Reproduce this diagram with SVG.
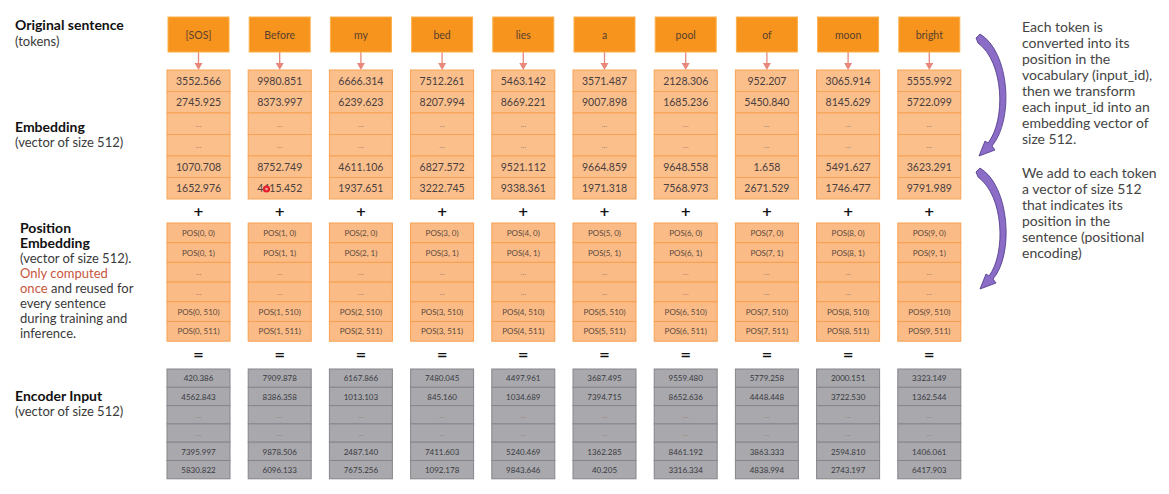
<svg xmlns="http://www.w3.org/2000/svg" width="1169" height="494" viewBox="0 0 1169 494">
<style>
  .lbl{font-family:Lato,"Open Sans","Liberation Sans",sans-serif;font-size:13px;fill:#3a3a3a}
  .b{font-weight:bold;fill:#111;font-size:14px}
  .red{fill:#c8553d}
  .side{font-family:Lato,"Open Sans","Liberation Sans",sans-serif;font-size:14px;fill:#444}
  .tok rect{fill:#F7941D;stroke:#FBB04A;stroke-width:1}
  .tok text{font-family:Lato,"Open Sans","Liberation Sans",sans-serif;font-size:10.5px;fill:#5a4030;text-anchor:middle;dominant-baseline:central}
  .emb use{fill:#FBBF8C;stroke:#F7A355;stroke-width:1}
  .emb text{font-family:Lato,"Open Sans","Liberation Sans",sans-serif;font-size:10.5px;fill:#4a4040;stroke:none;text-anchor:middle;dominant-baseline:central}
  .pos use{fill:#FBBB86;stroke:#F7A050;stroke-width:1}
  .pos text{font-family:Lato,"Open Sans","Liberation Sans",sans-serif;font-size:8px;fill:#5a4a40;stroke:none;text-anchor:middle;dominant-baseline:central}
  .enc use{fill:#A8A8AD;stroke:#85858B;stroke-width:1}
  .enc text{font-family:Lato,"Open Sans","Liberation Sans",sans-serif;font-size:8px;fill:#3a3a3e;stroke:none;text-anchor:middle;dominant-baseline:central}
  .emb text.dots,.pos text.dots,.enc text.dots{fill:#9a8070;font-size:8px}
  .op{font-family:"DejaVu Sans",sans-serif;font-size:13px;font-weight:bold;fill:#111;text-anchor:middle}
  .arr{stroke:#E8877A;stroke-width:1.3;fill:none}
  .arrh{fill:#E8877A}
  .curve{fill:#8B6CC6;stroke:#4A3585;stroke-width:0.8}
</style>
<rect x="0" y="0" width="1169" height="494" fill="#ffffff"/>

<g id="labels">
  <text class="lbl b" x="15" y="30">Original sentence</text>
  <text class="lbl" x="15" y="46">(tokens)</text>
  <text class="lbl b" x="15" y="132">Embedding</text>
  <text class="lbl" x="15" y="147">(vector of size 512)</text>
  <text class="lbl b" x="20" y="233">Position</text>
  <text class="lbl b" x="20" y="248">Embedding</text>
  <text class="lbl" x="20" y="263">(vector of size 512).</text>
  <text class="lbl red" x="20" y="278">Only computed</text>
  <text class="lbl" x="20" y="293"><tspan class="red">once</tspan> and reused for</text>
  <text class="lbl" x="20" y="308">every sentence</text>
  <text class="lbl" x="20" y="323">during training and</text>
  <text class="lbl" x="20" y="338">inference.</text>
  <text class="lbl b" x="15" y="401">Encoder Input</text>
  <text class="lbl" x="15" y="416">(vector of size 512)</text>
</g>

<g id="notes">
  <text class="side" x="1022" y="32">Each token is</text>
  <text class="side" x="1022" y="48">converted into its</text>
  <text class="side" x="1022" y="64">position in the</text>
  <text class="side" x="1022" y="80">vocabulary (input_id),</text>
  <text class="side" x="1022" y="96">then we transform</text>
  <text class="side" x="1022" y="112">each input_id into an</text>
  <text class="side" x="1022" y="128">embedding vector of</text>
  <text class="side" x="1022" y="144">size 512.</text>
  <text class="side" x="1022" y="178">We add to each token</text>
  <text class="side" x="1022" y="194">a vector of size 512</text>
  <text class="side" x="1022" y="210">that indicates its</text>
  <text class="side" x="1022" y="226">position in the</text>
  <text class="side" x="1022" y="242">sentence (positional</text>
  <text class="side" x="1022" y="258">encoding)</text>
</g>

<g id="connectors">
  <path class="curve" d="M976 38 L980 34 C1010 52 1014 120 992 146 L995 150 L979 156 L985 141 L988 143 C1006 120 1004 62 978 43 Z"/>
  <path class="curve" d="M976 172 L980 168 C1010 186 1014 255 993 279 L996 283 L980 289 L986 274 L989 276 C1006 253 1004 196 978 177 Z"/>
  <g id="token-arrows">
    <line class="arr" x1="198.5" y1="52" x2="198.5" y2="64"/><polygon class="arrh" points="194.5,63 202.5,63 198.5,70"/>
    <line class="arr" x1="279.7" y1="52" x2="279.7" y2="64"/><polygon class="arrh" points="275.7,63 283.7,63 279.7,70"/>
    <line class="arr" x1="360.9" y1="52" x2="360.9" y2="64"/><polygon class="arrh" points="356.9,63 364.9,63 360.9,70"/>
    <line class="arr" x1="442.1" y1="52" x2="442.1" y2="64"/><polygon class="arrh" points="438.1,63 446.1,63 442.1,70"/>
    <line class="arr" x1="523.3" y1="52" x2="523.3" y2="64"/><polygon class="arrh" points="519.3,63 527.3,63 523.3,70"/>
    <line class="arr" x1="604.5" y1="52" x2="604.5" y2="64"/><polygon class="arrh" points="600.5,63 608.5,63 604.5,70"/>
    <line class="arr" x1="685.7" y1="52" x2="685.7" y2="64"/><polygon class="arrh" points="681.7,63 689.7,63 685.7,70"/>
    <line class="arr" x1="766.9" y1="52" x2="766.9" y2="64"/><polygon class="arrh" points="762.9,63 770.9,63 766.9,70"/>
    <line class="arr" x1="848.1" y1="52" x2="848.1" y2="64"/><polygon class="arrh" points="844.1,63 852.1,63 848.1,70"/>
    <line class="arr" x1="929.3" y1="52" x2="929.3" y2="64"/><polygon class="arrh" points="925.3,63 933.3,63 929.3,70"/>
  </g>
  <g id="operators">
    <text class="op" x="198.5" y="216">+</text><text class="op" x="279.7" y="216">+</text><text class="op" x="360.9" y="216">+</text><text class="op" x="442.1" y="216">+</text><text class="op" x="523.3" y="216">+</text><text class="op" x="604.5" y="216">+</text><text class="op" x="685.7" y="216">+</text><text class="op" x="766.9" y="216">+</text><text class="op" x="848.1" y="216">+</text><text class="op" x="929.3" y="216">+</text>
    <text class="op" x="198.5" y="359">=</text><text class="op" x="279.7" y="359">=</text><text class="op" x="360.9" y="359">=</text><text class="op" x="442.1" y="359">=</text><text class="op" x="523.3" y="359">=</text><text class="op" x="604.5" y="359">=</text><text class="op" x="685.7" y="359">=</text><text class="op" x="766.9" y="359">=</text><text class="op" x="848.1" y="359">=</text><text class="op" x="929.3" y="359">=</text>
  </g>
</g>

<g id="tokens">
  <g id="tok0" class="tok"><rect x="168" y="17" width="61" height="35"/><text x="198.5" y="34.5">[SOS]</text></g>
  <g id="tok1" class="tok"><rect x="249.2" y="17" width="61" height="35"/><text x="279.7" y="34.5">Before</text></g>
  <g id="tok2" class="tok"><rect x="330.4" y="17" width="61" height="35"/><text x="360.9" y="34.5">my</text></g>
  <g id="tok3" class="tok"><rect x="411.6" y="17" width="61" height="35"/><text x="442.1" y="34.5">bed</text></g>
  <g id="tok4" class="tok"><rect x="492.8" y="17" width="61" height="35"/><text x="523.3" y="34.5">lies</text></g>
  <g id="tok5" class="tok"><rect x="574" y="17" width="61" height="35"/><text x="604.5" y="34.5">a</text></g>
  <g id="tok6" class="tok"><rect x="655.2" y="17" width="61" height="35"/><text x="685.7" y="34.5">pool</text></g>
  <g id="tok7" class="tok"><rect x="736.4" y="17" width="61" height="35"/><text x="766.9" y="34.5">of</text></g>
  <g id="tok8" class="tok"><rect x="817.6" y="17" width="61" height="35"/><text x="848.1" y="34.5">moon</text></g>
  <g id="tok9" class="tok"><rect x="898.8" y="17" width="61" height="35"/><text x="929.3" y="34.5">bright</text></g>
</g>

<defs>
  <g id="embcells">
    <rect x="-31.5" y="70" width="63" height="21.5"/><rect x="-31.5" y="91.5" width="63" height="21.5"/><rect x="-31.5" y="113" width="63" height="21.5"/><rect x="-31.5" y="134.5" width="63" height="21.5"/><rect x="-31.5" y="156" width="63" height="21.5"/><rect x="-31.5" y="177.5" width="63" height="21.5"/>
  </g>
  <g id="poscells">
    <rect x="-31.5" y="223" width="63" height="19.7"/><rect x="-31.5" y="242.7" width="63" height="19.7"/><rect x="-31.5" y="262.4" width="63" height="19.7"/><rect x="-31.5" y="282.1" width="63" height="19.7"/><rect x="-31.5" y="301.8" width="63" height="19.7"/><rect x="-31.5" y="321.5" width="63" height="19.7"/>
  </g>
  <g id="enccells">
    <rect x="-31.5" y="369" width="63" height="18.3"/><rect x="-31.5" y="387.3" width="63" height="18.3"/><rect x="-31.5" y="405.6" width="63" height="18.3"/><rect x="-31.5" y="423.9" width="63" height="18.3"/><rect x="-31.5" y="442.2" width="63" height="18.3"/><rect x="-31.5" y="460.5" width="63" height="18.3"/>
  </g>
</defs>

<g id="embeddings">
  <g id="emb0" class="emb" transform="translate(198.5,0)"><use href="#embcells"/><text x="0" y="81">3552.566</text><text x="0" y="102">2745.925</text><text class="dots" x="0" y="124">...</text><text class="dots" x="0" y="145">...</text><text x="0" y="167">1070.708</text><text x="0" y="188">1652.976</text></g>
  <g id="emb1" class="emb" transform="translate(279.7,0)"><use href="#embcells"/><text x="0" y="81">9980.851</text><text x="0" y="102">8373.997</text><text class="dots" x="0" y="124">...</text><text class="dots" x="0" y="145">...</text><text x="0" y="167">8752.749</text><text x="0" y="188">4415.452</text></g>
  <g id="emb2" class="emb" transform="translate(360.9,0)"><use href="#embcells"/><text x="0" y="81">6666.314</text><text x="0" y="102">6239.623</text><text class="dots" x="0" y="124">...</text><text class="dots" x="0" y="145">...</text><text x="0" y="167">4611.106</text><text x="0" y="188">1937.651</text></g>
  <g id="emb3" class="emb" transform="translate(442.1,0)"><use href="#embcells"/><text x="0" y="81">7512.261</text><text x="0" y="102">8207.994</text><text class="dots" x="0" y="124">...</text><text class="dots" x="0" y="145">...</text><text x="0" y="167">6827.572</text><text x="0" y="188">3222.745</text></g>
  <g id="emb4" class="emb" transform="translate(523.3,0)"><use href="#embcells"/><text x="0" y="81">5463.142</text><text x="0" y="102">8669.221</text><text class="dots" x="0" y="124">...</text><text class="dots" x="0" y="145">...</text><text x="0" y="167">9521.112</text><text x="0" y="188">9338.361</text></g>
  <g id="emb5" class="emb" transform="translate(604.5,0)"><use href="#embcells"/><text x="0" y="81">3571.487</text><text x="0" y="102">9007.898</text><text class="dots" x="0" y="124">...</text><text class="dots" x="0" y="145">...</text><text x="0" y="167">9664.859</text><text x="0" y="188">1971.318</text></g>
  <g id="emb6" class="emb" transform="translate(685.7,0)"><use href="#embcells"/><text x="0" y="81">2128.306</text><text x="0" y="102">1685.236</text><text class="dots" x="0" y="124">...</text><text class="dots" x="0" y="145">...</text><text x="0" y="167">9648.558</text><text x="0" y="188">7568.973</text></g>
  <g id="emb7" class="emb" transform="translate(766.9,0)"><use href="#embcells"/><text x="0" y="81">952.207</text><text x="0" y="102">5450.840</text><text class="dots" x="0" y="124">...</text><text class="dots" x="0" y="145">...</text><text x="0" y="167">1.658</text><text x="0" y="188">2671.529</text></g>
  <g id="emb8" class="emb" transform="translate(848.1,0)"><use href="#embcells"/><text x="0" y="81">3065.914</text><text x="0" y="102">8145.629</text><text class="dots" x="0" y="124">...</text><text class="dots" x="0" y="145">...</text><text x="0" y="167">5491.627</text><text x="0" y="188">1746.477</text></g>
  <g id="emb9" class="emb" transform="translate(929.3,0)"><use href="#embcells"/><text x="0" y="81">5555.992</text><text x="0" y="102">5722.099</text><text class="dots" x="0" y="124">...</text><text class="dots" x="0" y="145">...</text><text x="0" y="167">3623.291</text><text x="0" y="188">9791.989</text></g>
</g>

<g id="cursor-mark">
  <circle cx="266.5" cy="189" r="3.6" fill="#E4202C"/>
  <circle cx="266.5" cy="189" r="1.3" fill="#F6A6A6"/>
</g>

<g id="positions">
  <g id="pos0" class="pos" transform="translate(198.5,0)"><use href="#poscells"/><text x="0" y="233">POS(0, 0)</text><text x="0" y="252.5">POS(0, 1)</text><text class="dots" x="0" y="272">...</text><text class="dots" x="0" y="292">...</text><text x="0" y="311.5">POS(0, 510)</text><text x="0" y="331">POS(0, 511)</text></g>
  <g id="pos1" class="pos" transform="translate(279.7,0)"><use href="#poscells"/><text x="0" y="233">POS(1, 0)</text><text x="0" y="252.5">POS(1, 1)</text><text class="dots" x="0" y="272">...</text><text class="dots" x="0" y="292">...</text><text x="0" y="311.5">POS(1, 510)</text><text x="0" y="331">POS(1, 511)</text></g>
  <g id="pos2" class="pos" transform="translate(360.9,0)"><use href="#poscells"/><text x="0" y="233">POS(2, 0)</text><text x="0" y="252.5">POS(2, 1)</text><text class="dots" x="0" y="272">...</text><text class="dots" x="0" y="292">...</text><text x="0" y="311.5">POS(2, 510)</text><text x="0" y="331">POS(2, 511)</text></g>
  <g id="pos3" class="pos" transform="translate(442.1,0)"><use href="#poscells"/><text x="0" y="233">POS(3, 0)</text><text x="0" y="252.5">POS(3, 1)</text><text class="dots" x="0" y="272">...</text><text class="dots" x="0" y="292">...</text><text x="0" y="311.5">POS(3, 510)</text><text x="0" y="331">POS(3, 511)</text></g>
  <g id="pos4" class="pos" transform="translate(523.3,0)"><use href="#poscells"/><text x="0" y="233">POS(4, 0)</text><text x="0" y="252.5">POS(4, 1)</text><text class="dots" x="0" y="272">...</text><text class="dots" x="0" y="292">...</text><text x="0" y="311.5">POS(4, 510)</text><text x="0" y="331">POS(4, 511)</text></g>
  <g id="pos5" class="pos" transform="translate(604.5,0)"><use href="#poscells"/><text x="0" y="233">POS(5, 0)</text><text x="0" y="252.5">POS(5, 1)</text><text class="dots" x="0" y="272">...</text><text class="dots" x="0" y="292">...</text><text x="0" y="311.5">POS(5, 510)</text><text x="0" y="331">POS(5, 511)</text></g>
  <g id="pos6" class="pos" transform="translate(685.7,0)"><use href="#poscells"/><text x="0" y="233">POS(6, 0)</text><text x="0" y="252.5">POS(6, 1)</text><text class="dots" x="0" y="272">...</text><text class="dots" x="0" y="292">...</text><text x="0" y="311.5">POS(6, 510)</text><text x="0" y="331">POS(6, 511)</text></g>
  <g id="pos7" class="pos" transform="translate(766.9,0)"><use href="#poscells"/><text x="0" y="233">POS(7, 0)</text><text x="0" y="252.5">POS(7, 1)</text><text class="dots" x="0" y="272">...</text><text class="dots" x="0" y="292">...</text><text x="0" y="311.5">POS(7, 510)</text><text x="0" y="331">POS(7, 511)</text></g>
  <g id="pos8" class="pos" transform="translate(848.1,0)"><use href="#poscells"/><text x="0" y="233">POS(8, 0)</text><text x="0" y="252.5">POS(8, 1)</text><text class="dots" x="0" y="272">...</text><text class="dots" x="0" y="292">...</text><text x="0" y="311.5">POS(8, 510)</text><text x="0" y="331">POS(8, 511)</text></g>
  <g id="pos9" class="pos" transform="translate(929.3,0)"><use href="#poscells"/><text x="0" y="233">POS(9, 0)</text><text x="0" y="252.5">POS(9, 1)</text><text class="dots" x="0" y="272">...</text><text class="dots" x="0" y="292">...</text><text x="0" y="311.5">POS(9, 510)</text><text x="0" y="331">POS(9, 511)</text></g>
</g>

<g id="encoder-inputs">
  <g id="enc0" class="enc" transform="translate(198.5,0)"><use href="#enccells"/><text x="0" y="378">420.386</text><text x="0" y="396.5">4562.843</text><text class="dots" x="0" y="415">...</text><text class="dots" x="0" y="433">...</text><text x="0" y="451.5">7395.997</text><text x="0" y="469.5">5830.822</text></g>
  <g id="enc1" class="enc" transform="translate(279.7,0)"><use href="#enccells"/><text x="0" y="378">7909.878</text><text x="0" y="396.5">8386.358</text><text class="dots" x="0" y="415">...</text><text class="dots" x="0" y="433">...</text><text x="0" y="451.5">9878.506</text><text x="0" y="469.5">6096.133</text></g>
  <g id="enc2" class="enc" transform="translate(360.9,0)"><use href="#enccells"/><text x="0" y="378">6167.866</text><text x="0" y="396.5">1013.103</text><text class="dots" x="0" y="415">...</text><text class="dots" x="0" y="433">...</text><text x="0" y="451.5">2487.140</text><text x="0" y="469.5">7675.256</text></g>
  <g id="enc3" class="enc" transform="translate(442.1,0)"><use href="#enccells"/><text x="0" y="378">7480.045</text><text x="0" y="396.5">845.160</text><text class="dots" x="0" y="415">...</text><text class="dots" x="0" y="433">...</text><text x="0" y="451.5">7411.603</text><text x="0" y="469.5">1092.178</text></g>
  <g id="enc4" class="enc" transform="translate(523.3,0)"><use href="#enccells"/><text x="0" y="378">4497.961</text><text x="0" y="396.5">1034.689</text><text class="dots" x="0" y="415">...</text><text class="dots" x="0" y="433">...</text><text x="0" y="451.5">5240.469</text><text x="0" y="469.5">9843.646</text></g>
  <g id="enc5" class="enc" transform="translate(604.5,0)"><use href="#enccells"/><text x="0" y="378">3687.495</text><text x="0" y="396.5">7394.715</text><text class="dots" x="0" y="415">...</text><text class="dots" x="0" y="433">...</text><text x="0" y="451.5">1362.285</text><text x="0" y="469.5">40.205</text></g>
  <g id="enc6" class="enc" transform="translate(685.7,0)"><use href="#enccells"/><text x="0" y="378">9559.480</text><text x="0" y="396.5">8652.636</text><text class="dots" x="0" y="415">...</text><text class="dots" x="0" y="433">...</text><text x="0" y="451.5">8461.192</text><text x="0" y="469.5">3316.334</text></g>
  <g id="enc7" class="enc" transform="translate(766.9,0)"><use href="#enccells"/><text x="0" y="378">5779.258</text><text x="0" y="396.5">4448.448</text><text class="dots" x="0" y="415">...</text><text class="dots" x="0" y="433">...</text><text x="0" y="451.5">3863.333</text><text x="0" y="469.5">4838.994</text></g>
  <g id="enc8" class="enc" transform="translate(848.1,0)"><use href="#enccells"/><text x="0" y="378">2000.151</text><text x="0" y="396.5">3722.530</text><text class="dots" x="0" y="415">...</text><text class="dots" x="0" y="433">...</text><text x="0" y="451.5">2594.810</text><text x="0" y="469.5">2743.197</text></g>
  <g id="enc9" class="enc" transform="translate(929.3,0)"><use href="#enccells"/><text x="0" y="378">3323.149</text><text x="0" y="396.5">1362.544</text><text class="dots" x="0" y="415">...</text><text class="dots" x="0" y="433">...</text><text x="0" y="451.5">1406.061</text><text x="0" y="469.5">6417.903</text></g>
</g>
</svg>
